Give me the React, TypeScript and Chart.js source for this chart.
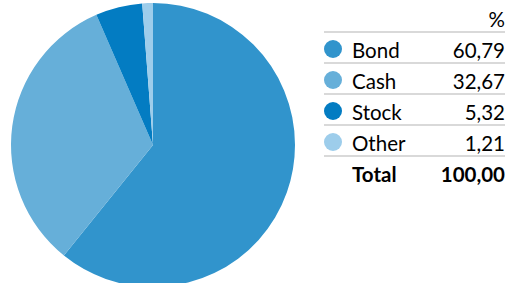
import React, { useEffect, useRef } from "react";
import { Chart, registerables } from "chart.js";

Chart.register(...registerables);

const categories = ["Bond", "Cash", "Stock", "Other"];
const values = [60.79, 32.67, 5.32, 1.21];
const valueLabels = ["60,79", "32,67", "5,32", "1,21"];
const totalLabel = "100,00";
const colors = ["#3194cc", "#66afd9", "#037cc2", "#9dcdeb"];

const FONT = "Lato, 'Open Sans', sans-serif";
const FS = 20.5;

export default function App() {
  const ref = useRef<HTMLCanvasElement | null>(null);

  useEffect(() => {
    document.body.style.margin = "0";
    const chart = new Chart(ref.current!, {
      type: "pie",
      data: {
        labels: categories,
        datasets: [
          {
            data: values,
            backgroundColor: colors,
            borderWidth: 0,
          },
        ],
      },
      options: {
        responsive: false,
        animation: false,
        layout: { padding: 3 },
        plugins: { legend: { display: false }, tooltip: { enabled: false } },
      },
    });
    return () => chart.destroy();
  }, []);

  const rowH = 31;
  const top0 = 33;
  const textTop = 2;

  return (
    <div
      style={{
        position: "fixed",
        left: 0,
        top: 0,
        width: 508,
        height: 283,
        overflow: "hidden",
        background: "#fff",
        fontFamily: FONT,
        color: "#000",
      }}
    >
      <canvas ref={ref} width={306} height={290} style={{ position: "absolute", left: 0, top: 0 }} />
      <div
        style={{
          position: "absolute",
          left: 324,
          width: 181,
          top: 0,
          height: top0,
          borderBottom: "2px solid #d9d9d9",
          boxSizing: "border-box",
          fontSize: FS,
          lineHeight: "31px",
        }}
      >
        <span style={{ position: "absolute", right: 0, top: 4 }}>%</span>
      </div>
      {categories.map((c, i) => (
        <div
          key={c}
          style={{
            position: "absolute",
            left: 324,
            width: 181,
            top: top0 + i * rowH,
            height: rowH,
            borderBottom: "2px solid #d9d9d9",
            boxSizing: "border-box",
            fontSize: FS,
            lineHeight: "31px",
          }}
        >
          <span
            style={{
              position: "absolute",
              left: 0,
              top: 7,
              width: 18,
              height: 18,
              borderRadius: "50%",
              background: colors[i],
            }}
          />
          <span style={{ position: "absolute", left: 28, top: textTop }}>{c}</span>
          <span style={{ position: "absolute", right: 0, top: textTop }}>{valueLabels[i]}</span>
        </div>
      ))}
      <div
        style={{
          position: "absolute",
          left: 324,
          width: 181,
          top: top0 + 4 * rowH,
          height: rowH,
          fontSize: FS,
          lineHeight: "31px",
          fontWeight: "bold",
        }}
      >
        <span style={{ position: "absolute", left: 28, top: textTop }}>Total</span>
        <span style={{ position: "absolute", right: 0, top: textTop }}>{totalLabel}</span>
      </div>
    </div>
  );
}
